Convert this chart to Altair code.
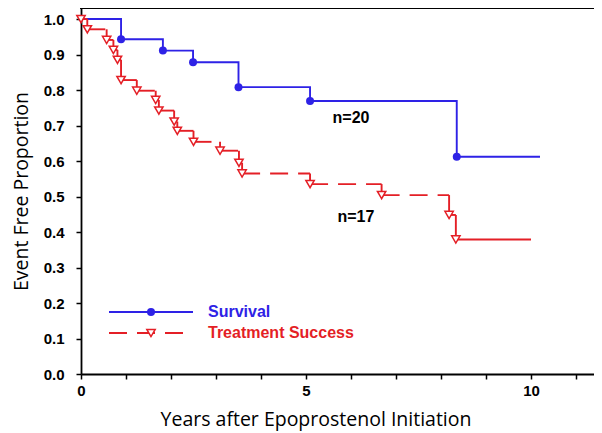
import altair as alt
import pandas as pd

# ---- data ----
surv_time = [0.0, 0.89, 1.82, 2.49, 3.50, 5.09, 8.35]
surv_prob = [1.0, 0.943, 0.911, 0.878, 0.808, 0.769, 0.612]
surv_end = 10.2

tx_time = [0.0, 0.14, 0.57, 0.72, 0.81, 0.89, 1.24, 1.66, 1.73, 2.07, 2.14,
           2.50, 3.09, 3.51, 3.58, 5.09, 6.68, 8.18, 8.33]
tx_prob = [1.0, 0.971, 0.941, 0.913, 0.885, 0.828, 0.798, 0.772, 0.742, 0.711,
           0.685, 0.654, 0.629, 0.595, 0.565, 0.535, 0.504, 0.448, 0.379]
tx_end = 10.0

labels_text = ["n=20", "n=17"]
labels_x = [6.0, 6.11]
labels_y = [0.721, 0.442]

legend_names = ["Survival", "Treatment Success"]
y_ticks = [0, 0.1, 0.2, 0.3, 0.4, 0.5, 0.6, 0.7, 0.8, 0.9, 1.0]
x_ticks = [0, 1, 2, 3, 4, 5, 6, 7, 8, 9, 10, 11]

BLUE = "#2e22e6"
RED = "#e41f26"
CIRCLE_SIZE = 64
TRI_SIZE = 70

W, H = 513, 366
x_scale = alt.Scale(domain=[0, 11.4], nice=False)
y_scale = alt.Scale(domain=[0, 1.031], nice=False)

# survival step line
surv_df = pd.DataFrame({"t": surv_time + [surv_end], "p": surv_prob + [surv_prob[-1]]})
surv_pts = pd.DataFrame({"t": surv_time[1:], "p": surv_prob[1:]})

# treatment segments
h_rows = []
for i in range(len(tx_time)):
    x2 = tx_time[i + 1] if i + 1 < len(tx_time) else tx_end
    h_rows.append({"t": tx_time[i], "t2": x2, "p": tx_prob[i],
                   "tail": i == len(tx_time) - 1})
h_df = pd.DataFrame(h_rows)
v_df = pd.DataFrame({"t": tx_time[1:], "p": tx_prob[:-1], "p2": tx_prob[1:]})
tx_pts = pd.DataFrame({"t": tx_time, "p": tx_prob})

x_axis = alt.Axis(
    values=x_ticks, labelExpr="datum.value % 5 == 0 ? datum.label : ''",
    title="Years after Epoprostenol Initiation", grid=False,
    domainColor="black", domainWidth=1.8, tickColor="black", tickWidth=1.5, tickSize=5,
    labelFont="Liberation Sans", labelFontWeight="bold", labelFontSize=15, labelColor="black",
    labelPadding=4, labelFlush=False, labelOverlap=False,
    titleFont="Open Sans", titleFontWeight="normal", titleFontSize=19.5, titleColor="black",
    titleX=234.5, titleY=45, titleBaseline="middle", titleAlign="center",
)
y_axis = alt.Axis(
    values=y_ticks, tickCount=11, format=".1f",
    title="Event Free Proportion", grid=False,
    domainColor="black", domainWidth=1.8, tickColor="black", tickWidth=1.5, tickSize=5,
    labelFont="Liberation Sans", labelFontWeight="bold", labelFontSize=15, labelColor="black",
    labelPadding=12, labelOverlap=False,
    titleFont="Open Sans", titleFontWeight="normal", titleFontSize=19.5, titleColor="black",
    titleX=-60, titleBaseline="middle",
)


def X(field):
    return alt.X(field, scale=x_scale, axis=x_axis)


def Y(field):
    return alt.Y(field, scale=y_scale, axis=y_axis)


surv_line = alt.Chart(surv_df).mark_line(interpolate="step-after", color=BLUE, strokeWidth=1.9).encode(
    x=X("t:Q"), y=Y("p:Q"))
surv_mark = alt.Chart(surv_pts).mark_point(shape="circle", filled=True, color=BLUE,
                                           size=CIRCLE_SIZE, opacity=1).encode(
    x=X("t:Q"), y=Y("p:Q"))

h_dash = alt.Chart(h_df).transform_filter("!datum.tail").mark_rule(
    color=RED, strokeWidth=1.9, strokeDash=[18, 10]).encode(
    x=X("t:Q"), x2="t2:Q", y=Y("p:Q"))
h_tail = alt.Chart(h_df).transform_filter("datum.tail").mark_rule(
    color=RED, strokeWidth=1.9).encode(
    x=X("t:Q"), x2="t2:Q", y=Y("p:Q"))
v_rules = alt.Chart(v_df).mark_rule(color=RED, strokeWidth=1.9).encode(
    x=X("t:Q"), y=Y("p:Q"), y2="p2:Q")
tx_mark = alt.Chart(tx_pts).mark_point(shape="triangle-down", filled=True, fill="white",
                                       stroke=RED, strokeWidth=1.5, size=TRI_SIZE, opacity=1).encode(
    x=X("t:Q"), y=Y("p:Q"))

n_text = alt.Chart(pd.DataFrame({"label": labels_text, "t": labels_x, "p": labels_y})).mark_text(
    font="Liberation Sans", fontWeight="bold", fontSize=16, color="black",
    align="center", baseline="middle").encode(
    x=X("t:Q"), y=Y("p:Q"), text="label:N")

# top frame line
top_line = alt.Chart(pd.DataFrame({"a": [0]})).mark_rule(color="black", strokeWidth=1.8).encode(
    x=alt.value(-1), x2=alt.value(W), y=alt.value(0))

# manual legend
leg1_line = alt.Chart(pd.DataFrame({"a": [0]})).mark_rule(color=BLUE, strokeWidth=1.9).encode(
    x=alt.value(28), x2=alt.value(112), y=alt.value(304))
leg1_pt = alt.Chart(pd.DataFrame({"a": [0]})).mark_point(shape="circle", filled=True, color=BLUE,
                                                         size=CIRCLE_SIZE, opacity=1).encode(
    x=alt.value(70), y=alt.value(304))
leg2_line = alt.Chart(pd.DataFrame({"a": [0]})).mark_rule(color=RED, strokeWidth=1.9,
                                                          strokeDash=[18, 10]).encode(
    x=alt.value(28), x2=alt.value(104), y=alt.value(325))
leg2_pt = alt.Chart(pd.DataFrame({"a": [0]})).mark_point(shape="triangle-down", filled=True,
                                                         fill="white", stroke=RED, strokeWidth=1.5,
                                                         size=TRI_SIZE, opacity=1).encode(
    x=alt.value(70), y=alt.value(325))
leg1_txt = alt.Chart(pd.DataFrame({"label": [legend_names[0]]})).mark_text(
    font="Liberation Sans", fontWeight="bold", fontSize=16, color=BLUE,
    align="left", baseline="middle").encode(x=alt.value(127), y=alt.value(304), text="label:N")
leg2_txt = alt.Chart(pd.DataFrame({"label": [legend_names[1]]})).mark_text(
    font="Liberation Sans", fontWeight="bold", fontSize=16, color=RED,
    align="left", baseline="middle").encode(x=alt.value(127), y=alt.value(325), text="label:N")

chart = alt.layer(
    surv_line, h_dash, h_tail, v_rules, surv_mark, tx_mark, n_text, top_line,
    leg1_line, leg1_pt, leg2_line, leg2_pt, leg1_txt, leg2_txt,
).properties(
    width=W, height=H,
    autosize=alt.AutoSizeParams(type="none"),
    padding={"left": 73, "top": 0, "right": 0, "bottom": 57},
).configure_view(stroke=None).configure(background="white")

chart.save("out.html", embed_options={"renderer": "svg", "actions": False})
